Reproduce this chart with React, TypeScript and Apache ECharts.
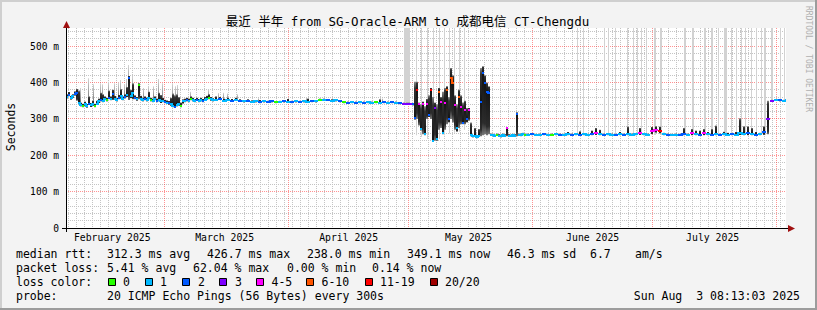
import React, { useEffect, useRef } from 'react';
import * as echarts from 'echarts';

const FONT = '"DejaVu Sans Mono", "Noto Sans CJK SC", monospace';

// x axis: days relative to 2025-03-01 00:00
const X_MIN = -24.66;
const X_MAX = 155.34;
const Y_MAX = 550;

const monthLabels = ['February 2025', 'March 2025', 'April 2025', 'May 2025', 'June 2025', 'July 2025'];
const monthLabelDays = [-13.1, 15, 46, 76, 107, 137];
const monthStartDays = [0, 31, 61, 92, 122, 153];

const lossColors = ['#26ff00', '#00b8ff', '#0059ff', '#7e00ff', '#ff00ff', '#ff5500', '#ff0000', '#a00000'];
const lossLabels = ['0', '1', '2', '3', '4-5', '6-10', '11-19', '20/20'];

// Segment A: Feb 5 - Mar 13, 12h steps
const febStart = -24.75;
const febStep = 0.5;
const febMedian = [360, 366, 357, 362, 368, 372, 345, 338, 336, 340, 335, 342, 337, 340, 336, 342, 348, 352, 350, 355, 352, 358, 355, 368, 356, 352, 358, 362, 355, 360, 365, 412, 362, 370, 358, 354, 393, 356, 352, 355, 352, 358, 352, 350, 355, 350, 352, 348, 350, 347, 345, 343, 340, 336, 334, 338, 340, 336, 348, 350, 352, 350, 355, 352, 350, 353, 350, 352, 350, 353, 356, 358, 354, 352];
const febLow = [356, 362, 353, 358, 364, 350, 340, 334, 332, 336, 331, 338, 333, 336, 332, 338, 344, 348, 346, 351, 348, 354, 351, 352, 352, 348, 354, 358, 351, 356, 360, 352, 357, 354, 354, 350, 354, 352, 348, 351, 348, 354, 348, 346, 351, 346, 348, 344, 346, 343, 341, 339, 336, 332, 330, 334, 336, 332, 342, 346, 348, 346, 351, 348, 346, 349, 346, 348, 346, 349, 352, 354, 350, 348];
const febHigh = [368, 374, 363, 368, 376, 382, 378, 345, 342, 348, 341, 362, 344, 350, 342, 350, 356, 372, 368, 362, 358, 378, 362, 380, 363, 358, 366, 382, 362, 368, 388, 418, 380, 398, 365, 360, 398, 364, 358, 362, 358, 375, 358, 356, 362, 356, 372, 366, 358, 353, 351, 349, 358, 370, 365, 368, 360, 345, 354, 356, 358, 356, 362, 358, 355, 358, 355, 358, 355, 360, 364, 368, 360, 357];
const febLoss = '12112211011211011211021211211212112101121101121112121121101121011211' + '211' + '0';

// Segment B: Mar 13 - May 1, daily
const aprStart = 12.25;
const aprStep = 1;
const aprMedian = [352, 355, 350, 352, 350, 353, 350, 348, 350, 347, 348, 346, 348, 347, 348, 346, 347, 348, 347, 346, 348, 347, 348, 347, 349, 348, 352, 353, 352, 350, 351, 349, 346, 345, 346, 345, 346, 345, 346, 345, 346, 345, 346, 345, 346, 345, 343, 342];
const aprLow = [349, 352, 347, 349, 347, 350, 347, 345, 347, 344, 345, 343, 345, 344, 345, 343, 344, 345, 344, 343, 345, 344, 345, 344, 346, 345, 349, 350, 349, 347, 348, 346, 343, 342, 343, 342, 343, 342, 343, 342, 343, 342, 343, 342, 343, 342, 340, 339];
const aprHigh = [362, 360, 356, 358, 355, 358, 354, 352, 354, 351, 352, 352, 351, 350, 351, 349, 350, 352, 355, 350, 351, 350, 352, 356, 352, 351, 356, 356, 355, 354, 354, 352, 349, 348, 349, 348, 349, 348, 349, 348, 349, 354, 349, 348, 349, 348, 346, 345];
const aprLoss = '121121212112122012121211210121120212121101212123';

// Segment C: May 1 - May 31, 12h steps
const mayStart = 60.25;
const mayStep = 0.5;
const mayMedian = [342, 342, 341, 340, 303, 380, 340, 272, 340, 258, 340, 312, 380, 238, 330, 245, 375, 347, 262, 345, 380, 300, 412, 398, 338, 275, 361, 334, 290, 324, 300, 324, 255, 252, 253, 250, 254, 347, 426, 400, 375, 370, 256, 255, 253, 256, 254, 252, 255, 254, 275, 254, 253, 255, 254, 314, 256, 255, 258, 256];
const mayLow = [339, 339, 338, 337, 298, 300, 282, 268, 258, 255, 300, 305, 300, 237, 240, 240, 270, 275, 258, 270, 285, 290, 300, 290, 270, 265, 275, 285, 285, 285, 290, 295, 252, 249, 250, 247, 251, 252, 255, 258, 255, 258, 253, 252, 250, 253, 251, 249, 252, 251, 252, 251, 250, 252, 251, 252, 253, 252, 255, 253];
const mayHigh = [345, 345, 344, 344, 402, 402, 345, 340, 348, 335, 355, 365, 385, 360, 345, 340, 385, 360, 375, 385, 390, 360, 440, 420, 365, 340, 380, 365, 345, 350, 330, 330, 290, 256, 275, 254, 272, 440, 445, 420, 400, 390, 260, 259, 257, 260, 258, 256, 260, 258, 278, 258, 257, 259, 258, 318, 260, 260, 262, 260];
const mayLoss = '333226414142613154145255415424241111122222111011114111121110';

// Segment D: May 31 - Aug 3, daily
const julStart = 90.25;
const julStep = 1;
const julMedian = [257, 258, 256, 257, 258, 256, 257, 258, 257, 256, 258, 257, 258, 257, 258, 256, 258, 262, 258, 257, 258, 257, 256, 258, 257, 258, 257, 258, 262, 258, 257, 266, 270, 268, 258, 257, 256, 257, 256, 258, 257, 260, 258, 257, 260, 258, 257, 258, 257, 258, 257, 258, 257, 262, 258, 260, 258, 257, 258, 265, 300, 350, 352, 351, 350, 351];
const julLow = [254, 255, 253, 254, 255, 253, 254, 255, 254, 253, 255, 254, 255, 254, 255, 253, 255, 256, 255, 254, 255, 254, 253, 255, 254, 255, 254, 255, 256, 255, 254, 258, 262, 260, 255, 254, 253, 254, 253, 255, 254, 255, 255, 254, 255, 255, 254, 255, 254, 255, 254, 255, 254, 256, 255, 255, 255, 254, 255, 256, 258, 347, 349, 348, 347, 348];
const julHigh = [260, 261, 259, 260, 261, 259, 260, 261, 260, 259, 264, 260, 261, 266, 261, 259, 268, 275, 270, 260, 261, 260, 259, 264, 260, 279, 260, 261, 275, 261, 260, 278, 280, 279, 262, 260, 259, 260, 259, 275, 260, 272, 268, 268, 272, 264, 272, 282, 260, 265, 262, 261, 264, 302, 280, 280, 275, 264, 262, 280, 350, 353, 355, 354, 353, 354];
const julLoss = '121121012112121124121121211141144612112214124121211211121212331211';

// sparse outlier smoke spikes: [day, bottom, top]
const greySpikes = [
  [-21, 345, 385], [-19, 345, 412], [-17.75, 340, 395], [-16, 350, 398], [-15.5, 350, 395],
  [-14, 355, 402], [-12.5, 355, 398], [-11.5, 355, 400], [-11, 355, 407], [-10, 358, 395],
  [-9.5, 360, 410], [-9, 380, 448], [-8, 370, 416], [-6.5, 375, 400], [-5.25, 352, 385],
  [-4, 355, 389], [-2.75, 352, 390], [-1.5, 350, 410], [-0.5, 350, 398], [2, 340, 398],
  [2.75, 340, 390], [3.25, 340, 393], [6.5, 352, 375], [11, 356, 380], [13.5, 352, 371],
  [14.75, 352, 372], [15.75, 350, 370], [18.25, 350, 368], [23.5, 348, 357], [31, 348, 357],
  [35.5, 348, 358], [54.5, 346, 356],
];

// periods whose smoke runs off the top of the graph: [start, end, bottom]
const lossBars = [
  [59.75, 61.25, 342], [62.75, 63.2, 255], [64, 64.4, 250], [65.5, 65.9, 245], [67, 67.4, 240],
  [68.5, 68.9, 245], [69.75, 70.15, 255], [71, 71.4, 260], [72.25, 72.6, 262], [73.5, 73.9, 265],
  [74.75, 75.15, 270],
  [103, 103.3, 256], [104.5, 104.8, 256], [109.75, 110.05, 256], [110.75, 111.05, 256], [112.5, 112.8, 256],
  [115.5, 115.8, 256], [117, 117.3, 256], [118, 118.3, 256], [119, 119.3, 256], [120.25, 120.55, 256],
  [122.25, 122.75, 256], [123.75, 124.35, 256], [129.75, 130.25, 256], [131.75, 132.25, 256],
  [134.75, 135.25, 256], [136.5, 137, 256], [138.25, 138.55, 256], [139.75, 140.5, 256],
  [141.5, 141.8, 256], [142.75, 143.05, 256], [144, 144.3, 256], [145, 145.3, 256], [146.5, 146.8, 256],
  [147.75, 148.05, 256], [149, 149.3, 256], [149.75, 150.25, 256], [151.5, 152, 350],
  [153.75, 154.05, 350], [154.75, 155.05, 350],
];

type Pt = { x0: number; x1: number; med: number; lo: number; hi: number; loss: number };

function buildPoints(): Pt[] {
  const segs = [
    { start: febStart, step: febStep, med: febMedian, lo: febLow, hi: febHigh, loss: febLoss },
    { start: aprStart, step: aprStep, med: aprMedian, lo: aprLow, hi: aprHigh, loss: aprLoss },
    { start: mayStart, step: mayStep, med: mayMedian, lo: mayLow, hi: mayHigh, loss: mayLoss },
    { start: julStart, step: julStep, med: julMedian, lo: julLow, hi: julHigh, loss: julLoss },
  ];
  const pts: Pt[] = [];
  for (const s of segs) {
    for (let i = 0; i < s.med.length; i++) {
      pts.push({
        x0: s.start + i * s.step,
        x1: s.start + (i + 1) * s.step,
        med: s.med[i],
        lo: s.lo[i],
        hi: s.hi[i],
        loss: Number(s.loss[i] ?? '1'),
      });
    }
  }
  return pts;
}

type GridItem = { dir: 'v' | 'h'; v: number; major: boolean };
function buildGrid(): GridItem[] {
  const g: GridItem[] = [];
  for (let d = -24; d <= 155; d += 2) if (!monthStartDays.includes(d)) g.push({ dir: 'v', v: d, major: false });
  for (let v = 20; v < Y_MAX; v += 20) if (v % 100 !== 0) g.push({ dir: 'h', v, major: false });
  for (const d of monthStartDays) g.push({ dir: 'v', v: d, major: true });
  for (let v = 100; v <= 500; v += 100) g.push({ dir: 'h', v, major: true });
  return g;
}

function txt(text: string, x: number, y: number, size: number, extra: any = {}) {
  return {
    type: 'text',
    z: 100,
    x,
    y,
    rotation: extra.rotation || 0,
    style: {
      text,
      x: 0,
      y: 0,
      fill: extra.fill || '#000',
      font: `${size}px ${FONT}`,
      textAlign: extra.align || 'left',
      align: extra.align || 'left',
      textVerticalAlign: 'middle',
      verticalAlign: 'middle',
    },
  };
}

export default function App() {
  const ref = useRef<HTMLDivElement>(null);
  useEffect(() => {
    document.body.style.margin = '0';
    if (!ref.current) return;
    const chart = echarts.init(ref.current, undefined, { renderer: 'svg' });
    const pts = buildPoints();
    const grid = buildGrid();

    const upperGrad = new echarts.graphic.LinearGradient(0, 0, 0, 1, [
      { offset: 0, color: '#8a8a8a' },
      { offset: 0.18, color: '#333333' },
      { offset: 1, color: '#141414' },
    ]);
    const lowerGrad = new echarts.graphic.LinearGradient(0, 0, 0, 1, [
      { offset: 0, color: '#141414' },
      { offset: 0.8, color: '#2c2c2c' },
      { offset: 1, color: '#7a7a7a' },
    ]);
    const spikeGrad = new echarts.graphic.LinearGradient(0, 0, 0, 1, [
      { offset: 0, color: '#d4d4d4' },
      { offset: 1, color: '#6e6e6e' },
    ]);

    const legendRows: any[] = [];
    const row1 = 254, row2 = 268, row3 = 282, row4 = 296;
    const L = 11.5;
    legendRows.push(txt('median rtt:', 16, row1, L));
    legendRows.push(txt('312.3 ms avg', 107, row1, L));
    legendRows.push(txt('426.7 ms max', 207, row1, L));
    legendRows.push(txt('238.0 ms min', 307, row1, L));
    legendRows.push(txt('349.1 ms now', 407, row1, L));
    legendRows.push(txt('46.3 ms sd', 507, row1, L));
    legendRows.push(txt('6.7', 590, row1, L));
    legendRows.push(txt('am/s', 635, row1, L));
    legendRows.push(txt('packet loss:', 16, row2, L));
    legendRows.push(txt('5.41 % avg', 107, row2, L));
    legendRows.push(txt('62.04 % max', 193, row2, L));
    legendRows.push(txt('0.00 % min', 287, row2, L));
    legendRows.push(txt('0.14 % now', 372, row2, L));
    legendRows.push(txt('loss color:', 16, row3, L));
    const boxX = [108.5, 145.5, 182.5, 219.5, 256.5, 306.5, 365.5, 430.5];
    const labX = [123, 160, 198, 235, 271.5, 321.5, 380, 445];
    lossColors.forEach((c, i) => {
      legendRows.push({
        type: 'rect', z: 100,
        shape: { x: boxX[i], y: 278.5, width: 7, height: 7 },
        style: { fill: c, stroke: '#000', lineWidth: 1 },
      });
      legendRows.push(txt(lossLabels[i], labX[i], row3, L));
    });
    legendRows.push(txt('probe:', 16, row4, L));
    legendRows.push(txt('20 ICMP Echo Pings (56 Bytes) every 300s', 107, row4, L));
    legendRows.push(txt('Sun Aug  3 08:13:03 2025', 800, row4, L, { align: 'right' }));

    const option: any = {
      animation: false,
      backgroundColor: '#f3f3f3',
      grid: { left: 66, top: 28, width: 720, height: 200, show: true, backgroundColor: '#ffffff', borderWidth: 0 },
      xAxis: {
        type: 'value',
        min: X_MIN,
        max: X_MAX,
        axisLine: { show: false },
        axisTick: { show: false },
        splitLine: { show: false },
        axisLabel: {
          customValues: monthLabelDays,
          color: '#000',
          fontFamily: FONT,
          fontSize: 9.8,
          margin: 5,
          formatter: (v: number) => {
            let best = 0;
            monthLabelDays.forEach((d, i) => {
              if (Math.abs(d - v) < Math.abs(monthLabelDays[best] - v)) best = i;
            });
            return Math.abs(monthLabelDays[best] - v) < 0.5 ? monthLabels[best] : '';
          },
        },
      },
      yAxis: {
        type: 'value',
        min: 0,
        max: Y_MAX,
        interval: 100,
        axisLine: { show: false },
        axisTick: { show: false },
        splitLine: { show: false },
        axisLabel: {
          color: '#000',
          fontFamily: FONT,
          fontSize: 9.6,
          margin: 7,
          formatter: (v: number) => (v === 0 ? '0' : v > 500 ? '' : `${v} m`),
        },
      },
      series: [
        {
          type: 'custom',
          name: 'grid',
          silent: true,
          z: 1,
          data: grid.map((g) => [g.dir === 'v' ? g.v : X_MIN, g.dir === 'h' ? g.v : 0]),
          renderItem: (params: any, api: any) => {
            const g = grid[params.dataIndex];
            const stroke = g.major ? 'rgba(255,40,40,0.5)' : '#c4c4c4';
            if (g.dir === 'v') {
              const p0 = api.coord([g.v, 0]);
              const p1 = api.coord([g.v, Y_MAX]);
              const x = Math.floor(p0[0]) + 0.5;
              return { type: 'line', shape: { x1: x, y1: p1[1], x2: x, y2: p0[1] }, style: { stroke, lineWidth: 1, lineDash: [1, 1] } };
            }
            const p0 = api.coord([X_MIN, g.v]);
            const p1 = api.coord([X_MAX, g.v]);
            const y = Math.floor(p0[1]) + 0.5;
            return { type: 'line', shape: { x1: p0[0], y1: y, x2: p1[0], y2: y }, style: { stroke, lineWidth: 1, lineDash: [1, 1] } };
          },
        },
        {
          type: 'custom',
          name: 'lossBars',
          silent: true,
          clip: true,
          z: 2,
          data: lossBars.map((b) => [b[0], b[2]]),
          renderItem: (params: any, api: any) => {
            const b = lossBars[params.dataIndex];
            const a = api.coord([b[0], Y_MAX]);
            const c = api.coord([b[1], b[2]]);
            const x0 = Math.round(a[0]);
            const w = Math.max(1, Math.round(c[0]) - x0);
            return { type: 'rect', shape: { x: x0, y: a[1], width: w, height: c[1] - a[1] }, style: { fill: '#d2d2d2' } };
          },
        },
        {
          type: 'custom',
          name: 'spikes',
          silent: true,
          clip: true,
          z: 3,
          data: greySpikes.map((s) => [s[0], s[2]]),
          renderItem: (params: any, api: any) => {
            const s = greySpikes[params.dataIndex];
            const a = api.coord([s[0] - 0.15, s[2]]);
            const c = api.coord([s[0] + 0.15, s[1]]);
            const x0 = Math.round(a[0]);
            const w = Math.max(1, Math.round(c[0]) - x0);
            return { type: 'rect', shape: { x: x0, y: a[1], width: w, height: c[1] - a[1] }, style: { fill: spikeGrad } };
          },
        },
        {
          type: 'custom',
          name: 'smoke',
          silent: true,
          clip: true,
          z: 4,
          data: pts.map((p) => [p.x0, p.med]),
          renderItem: (params: any, api: any) => {
            const p = pts[params.dataIndex];
            const a = api.coord([p.x0, p.med]);
            const b = api.coord([p.x1, p.med]);
            const yHi = api.coord([p.x0, p.hi])[1];
            const yLo = api.coord([p.x0, p.lo])[1];
            const colW = Math.round(b[0]) - Math.round(a[0]);
            const w = Math.min(colW, 2);
            const X0 = Math.round(a[0]) + Math.floor((colW - w) / 2);
            const yMed = a[1];
            const children: any[] = [];
            if (yMed - yHi > 0.3) children.push({ type: 'rect', shape: { x: X0, y: yHi, width: w, height: yMed - yHi }, style: { fill: upperGrad } });
            if (yLo - yMed > 0.3) children.push({ type: 'rect', shape: { x: X0, y: yMed, width: w, height: yLo - yMed }, style: { fill: lowerGrad } });
            return { type: 'group', children };
          },
        },
        {
          type: 'custom',
          name: 'median',
          silent: true,
          clip: true,
          z: 5,
          data: pts.map((p) => [p.x0, p.med]),
          renderItem: (params: any, api: any) => {
            const i = params.dataIndex;
            const p = pts[i];
            const color = lossColors[p.loss];
            const a = api.coord([p.x0, p.med]);
            const b = api.coord([p.x1, p.med]);
            const X0 = Math.round(a[0]);
            const X1 = Math.round(b[0]);
            const Y = Math.round(a[1]);
            const children: any[] = [
              { type: 'line', shape: { x1: X0, y1: Y, x2: X1, y2: Y }, style: { stroke: color, lineWidth: 2 } },
            ];
            const n = pts[i + 1];
            if (n && n.loss === p.loss) {
              const Yn = Math.round(api.coord([n.x0, n.med])[1]);
              if (Yn !== Y && Math.abs(Yn - Y) <= 6) children.push({ type: 'line', shape: { x1: X1, y1: Y, x2: X1, y2: Yn }, style: { stroke: color, lineWidth: 2, lineCap: 'square' } });
            }
            return { type: 'group', children };
          },
        },
      ],
      graphic: [
        { type: 'rect', z: 100, shape: { x: 0, y: 0, width: 817, height: 2 }, style: { fill: '#cfcfcf' } },
        { type: 'rect', z: 100, shape: { x: 0, y: 0, width: 2, height: 310 }, style: { fill: '#cfcfcf' } },
        { type: 'rect', z: 100, shape: { x: 0, y: 308, width: 817, height: 2 }, style: { fill: '#9c9c9c' } },
        { type: 'rect', z: 100, shape: { x: 815, y: 0, width: 2, height: 310 }, style: { fill: '#9c9c9c' } },
        { type: 'line', z: 100, shape: { x1: 62, y1: 228.5, x2: 790, y2: 228.5 }, style: { stroke: '#000', lineWidth: 1 } },
        { type: 'line', z: 100, shape: { x1: 66.5, y1: 232, x2: 66.5, y2: 27 }, style: { stroke: '#000', lineWidth: 1 } },
        { type: 'polygon', z: 101, shape: { points: [[788, 225], [795, 228.5], [788, 232]] }, style: { fill: '#a01010' } },
        { type: 'polygon', z: 101, shape: { points: [[63, 28], [66.5, 21], [70, 28]] }, style: { fill: '#a01010' } },
        txt('最近 半年 from SG-Oracle-ARM to 成都电信 CT-Chengdu', 407.5, 21, 12.5, { align: 'center' }),
        txt('Seconds', 10.5, 127, 11.5, { align: 'center', rotation: Math.PI / 2 }),
        txt('RRDTOOL / TOBI OETIKER', 808, 59, 8, { align: 'center', rotation: -Math.PI / 2, fill: '#b0b0b0' }),
        ...legendRows,
      ],
    };
    chart.setOption(option);
    return () => chart.dispose();
  }, []);
  return <div ref={ref} style={{ width: 817, height: 310 }} />;
}
